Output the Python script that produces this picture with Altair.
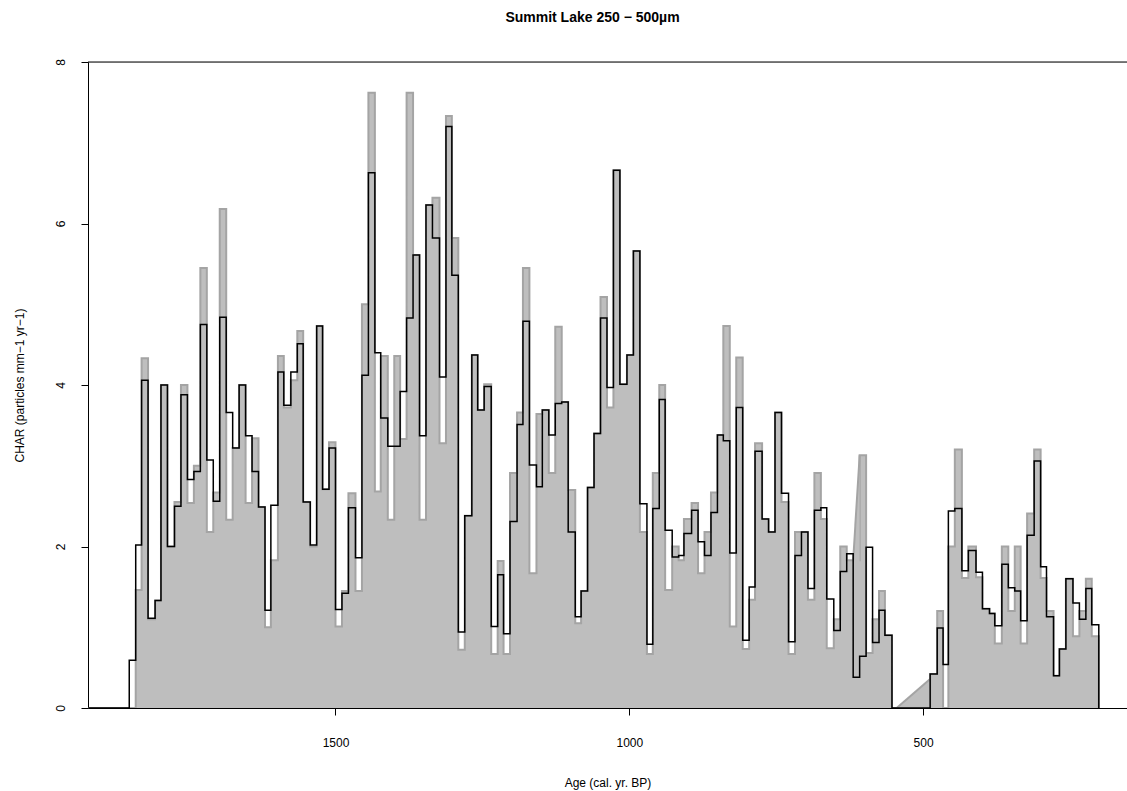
import altair as alt
import pandas as pd

# Ages (cal. yr. BP) of the older edge of each step, then the end point
ages = [1921, 1851, 1840, 1830, 1819, 1807, 1797, 1786, 1774, 1763, 1752, 1741, 1730, 1719, 1708,
        1697, 1686, 1675, 1664, 1653, 1642, 1631, 1620, 1610, 1598, 1588, 1576, 1565, 1555,
        1543, 1532, 1522, 1511, 1500, 1489, 1478, 1466, 1455, 1444, 1433, 1423, 1411, 1400,
        1390, 1379, 1368, 1357, 1346, 1335, 1323, 1312, 1302, 1291, 1280, 1268, 1258, 1247,
        1235, 1224, 1214, 1203, 1191, 1181, 1170, 1158, 1148, 1137, 1126, 1115, 1104, 1092,
        1082, 1071, 1060, 1049, 1038, 1027, 1016, 1004, 993, 982, 970, 960, 949, 939, 927,
        916, 907, 894, 883, 872, 861, 850, 840, 829, 818, 807, 796, 786, 774, 763, 752, 741,
        729, 718, 707, 696, 685, 674, 664, 652, 641, 630, 619, 608, 597, 586, 575, 565, 553,
        488, 476, 466, 457, 446, 434, 423, 410, 399, 387, 378, 366, 355, 344, 334, 323, 311,
        300, 290, 278, 268, 257, 245, 234, 223, 213, 201]

# Interpolated CHAR (black step line)
char_interp = [0, 0.59, 2.02, 4.06, 1.11, 1.33, 4.00, 2.00, 2.50, 3.88, 2.83, 2.93, 4.75, 3.07, 2.56,
               4.84, 3.66, 3.22, 4.00, 3.37, 2.93, 2.49, 1.21, 2.51, 4.16, 3.75, 4.16, 4.51, 2.55,
               2.02, 4.73, 2.71, 3.22, 1.22, 1.42, 2.48, 1.86, 4.12, 6.63, 4.40, 3.59, 3.24, 3.24,
               3.92, 4.83, 5.61, 3.37, 6.23, 5.82, 4.10, 7.20, 5.36, 0.94, 2.38, 4.37, 3.69, 3.98,
               1.01, 1.65, 0.92, 2.31, 3.51, 4.79, 3.01, 2.74, 3.69, 3.38, 3.77, 3.79, 2.18, 1.13,
               1.45, 2.73, 3.40, 4.83, 3.97, 6.66, 4.01, 4.37, 5.66, 2.53, 0.79, 2.47, 3.82, 2.20, 1.87,
               1.89, 2.16, 2.45, 2.06, 1.89, 2.42, 3.38, 3.31, 1.92, 3.72, 0.84, 1.50, 3.18, 2.34, 2.18, 3.66, 2.66,
               0.82, 1.89, 2.18, 1.48, 2.45, 2.48, 1.35, 0.96, 1.69, 1.91, 0.38, 0.64, 1.99, 0.81, 1.21, 0.90, 0.00,
               0.42, 0.99, 0.54, 2.44, 2.47, 1.70, 1.95, 1.68, 1.23, 1.17, 1.02, 1.78, 1.49, 1.45, 1.08, 2.14, 3.06,
               1.75, 1.13, 0.40, 0.73, 1.60, 1.30, 1.10, 1.48, 1.03, 0]

# Raw CHAR (grey filled steps)
char_raw = [0, 0, 1.46, 4.33, 1.10, 1.33, 4.00, 2.00, 2.55, 4.00, 2.54, 3.00, 5.45, 2.18, 2.67,
            6.18, 2.33, 3.22, 4.00, 2.54, 3.34, 2.49, 1.00, 1.83, 4.36, 3.72, 4.06, 4.67, 2.55,
            2.00, 4.73, 2.71, 3.29, 1.01, 1.45, 2.66, 1.45, 5.00, 7.62, 2.68, 4.36, 2.33, 4.36,
            3.33, 7.62, 5.61, 2.33, 6.23, 6.32, 3.28, 7.33, 5.82, 0.72, 2.38, 4.37, 3.69, 4.01,
            0.67, 1.82, 0.67, 2.91, 3.66, 5.45, 1.67, 3.64, 3.69, 2.91, 4.72, 3.79, 2.70, 1.05,
            1.45, 2.73, 3.40, 5.09, 3.72, 6.66, 4.01, 4.37, 5.66, 2.18, 0.67, 2.91, 4.00, 1.46, 2.00,
            1.83, 2.34, 2.54, 1.67, 2.18, 2.67, 3.38, 4.73, 1.01, 4.34, 0.73, 1.34, 3.28, 2.34, 2.18, 3.66, 2.55,
            0.67, 2.18, 2.18, 1.34, 2.91, 2.34, 0.74, 1.10, 2.00, 1.83, 1.83, 3.13, 0.68, 1.10, 1.45, 0.90, 0.00,
            0.42, 1.20, 0.00, 2.00, 3.20, 1.61, 2.00, 1.62, 1.23, 1.17, 0.80, 2.00, 1.20, 2.00, 0.80, 2.41, 3.20,
            1.61, 1.20, 0.40, 0.73, 1.60, 0.89, 1.20, 1.60, 0.89, 0]

# Two sloping pieces of the grey polygon
slope1_age = [619, 608]
slope1_val = [1.83, 3.13]
slope2_age = [545, 488]
slope2_val = [0.0, 0.36]

x_ticks = [1500, 1000, 500]
y_ticks = [0, 2, 4, 6, 8]

FONT = "Liberation Sans"
GREY = "#bebebe"
GREY_EDGE = "#a4a4a4"

df_black = pd.DataFrame({"age": ages, "char": char_interp})
df_grey = pd.DataFrame({"age": ages, "char": char_raw})
df_s1 = pd.DataFrame({"age": slope1_age, "char": slope1_val})
df_s2 = pd.DataFrame({"age": slope2_age, "char": slope2_val})
df_top = pd.DataFrame({"char": [8]})

x = alt.X(
    "age:Q",
    scale=alt.Scale(domain=[153, 1921.2], reverse=True, nice=False, zero=False),
    axis=alt.Axis(
        values=x_ticks, format="d", grid=False, tickSize=7, tickColor="black",
        domainColor="black", domainWidth=1, labelColor="black", labelFont=FONT,
        labelFontSize=12, labelPadding=22, titleFont=FONT, titleFontSize=12,
        titleFontWeight="normal", titleColor="black", titlePadding=29,
    ),
    title="Age (cal. yr. BP)",
)
y = alt.Y(
    "char:Q",
    scale=alt.Scale(domain=[0, 8], nice=False, zero=True),
    axis=alt.Axis(
        values=y_ticks, grid=False, tickSize=7, tickColor="black", domainColor="black",
        domainWidth=1, labelColor="black", labelFont=FONT, labelFontSize=12,
        labelAngle=270, labelAlign="center", labelBaseline="bottom", labelPadding=14,
        titleFont=FONT, titleFontSize=12, titleFontWeight="normal", titleColor="black",
        titlePadding=28,
    ),
    title="CHAR (particles mm\u22121 yr\u22121)",
)

STEP = "step-after"

grey_area = alt.Chart(df_grey).mark_area(
    interpolate=STEP, color=GREY, opacity=1, clip=True
).encode(x=x, y=y)
grey_edge = alt.Chart(df_grey).mark_line(
    interpolate=STEP, color=GREY_EDGE, strokeWidth=2, clip=True
).encode(x=x, y=y)
s1_area = alt.Chart(df_s1).mark_area(color=GREY, opacity=1, clip=True).encode(x=x, y=y)
s1_edge = alt.Chart(df_s1).mark_line(color=GREY_EDGE, strokeWidth=2, clip=True).encode(x=x, y=y)
s2_area = alt.Chart(df_s2).mark_area(color=GREY, opacity=1, clip=True).encode(x=x, y=y)
s2_edge = alt.Chart(df_s2).mark_line(color=GREY_EDGE, strokeWidth=2, clip=True).encode(x=x, y=y)
black_line = alt.Chart(df_black).mark_line(
    interpolate=STEP, color="black", strokeWidth=1.5, clip=True
).encode(x=x, y=y)
top_rule = alt.Chart(df_top).mark_rule(color="black", strokeWidth=1).encode(y=y)

chart = alt.layer(
    grey_area, grey_edge, s1_area, s1_edge, s2_area, s2_edge, black_line, top_rule
).properties(
    width=1039,
    height=646,
    autosize=alt.AutoSizeParams(type="none"),
    padding={"left": 88, "top": 62, "right": 0, "bottom": 83},
    title=alt.TitleParams(
        "Summit Lake 250 \u2212 500\u00b5m", font=FONT, fontSize=14, fontWeight="bold",
        color="black", anchor="middle", offset=34, dx=-15,
    ),
).configure_view(strokeWidth=0).configure(background="white")

chart.save("out.html", embed_options={"renderer": "svg", "actions": False})
